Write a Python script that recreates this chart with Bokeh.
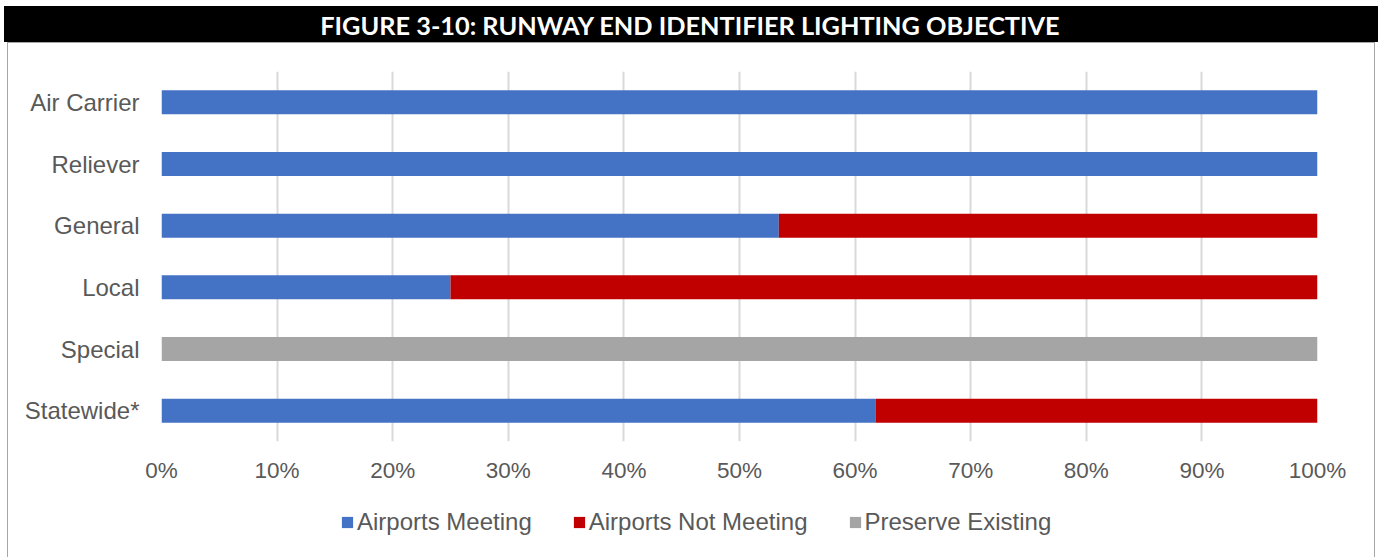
from bokeh.plotting import figure
from bokeh.layouts import column
from bokeh.models import FactorRange, Range1d, Legend, Label, FixedTicker, NumeralTickFormatter
from bokeh.embed import file_html
from bokeh.resources import INLINE

title_text = "FIGURE 3-10: RUNWAY END IDENTIFIER LIGHTING OBJECTIVE"
categories = ["Air Carrier", "Reliever", "General", "Local", "Special", "Statewide*"]
meeting = [1.0, 1.0, 0.534, 0.25, 0.0, 0.618]
not_meeting = [0.0, 0.0, 0.466, 0.75, 0.0, 0.382]
preserve = [0.0, 0.0, 0.0, 0.0, 1.0, 0.0]
series = ["Airports Meeting", "Airports Not Meeting", "Preserve Existing"]
colors = ["#4472C4", "#C00000", "#A5A5A5"]
x_ticks = [0, 0.1, 0.2, 0.3, 0.4, 0.5, 0.6, 0.7, 0.8, 0.9, 1.0]

FONT = "Liberation Sans"
TXT = "#595959"
BORDER = "1px solid #a6a6a6"
LB, RB = 153, 59

# title bar (x range = canvas pixels of its own frame)
p0 = figure(width=1374, height=36, output_backend="svg", toolbar_location=None,
            x_range=Range1d(LB, 1374 - RB), y_range=Range1d(0, 36),
            min_border=0, min_border_left=LB, min_border_right=RB,
            x_axis_type=None, y_axis_type=None)
p0.background_fill_color = None
p0.border_fill_color = None
p0.styles = {"background-color": "black"}
p0.outline_line_color = None
p0.grid.visible = False
p0.add_layout(Label(x=686, y=18, text=title_text, text_align="center", text_baseline="middle",
                    text_color="white", text_font="Lato", text_font_style="bold",
                    text_font_size="25.3px"))
p0.margin = (6, 0, 0, 4)

# main chart
p = figure(width=1368, height=448, output_backend="svg", toolbar_location=None,
           y_range=FactorRange(*categories[::-1], range_padding=0),
           x_range=Range1d(0, 1), min_border_left=LB, min_border_right=RB,
           min_border_top=28, min_border_bottom=50)
p.margin = (0, 0, 0, 7)
p.styles = {"border-left": BORDER, "border-right": BORDER, "border-top": BORDER}
p.outline_line_color = None
p.background_fill_color = "white"

data = {"cat": categories, series[0]: meeting, series[1]: not_meeting, series[2]: preserve}
rs = p.hbar_stack(series, y="cat", height=0.39, color=colors, source=data,
                  line_color=None)

p.ygrid.grid_line_color = None
p.xgrid.grid_line_color = "#D9D9D9"
p.xgrid.grid_line_width = 2
p.xgrid.level = "underlay"

p.xaxis.ticker = FixedTicker(ticks=x_ticks)
p.xaxis.formatter = NumeralTickFormatter(format="0%")
for ax in (p.xaxis[0], p.yaxis[0]):
    ax.axis_line_color = None
    ax.major_tick_line_color = None
    ax.minor_tick_line_color = None
    ax.major_tick_out = 0
    ax.major_label_text_font = FONT
    ax.major_label_text_font_size = "22.5px"
    ax.major_label_text_color = TXT
p.xaxis.major_label_standoff = 16
p.yaxis.major_label_standoff = 22
p.yaxis.major_label_text_font_size = "24px"

# legend strip (swatches are zero-width proxies of the three series)
p2 = figure(width=1368, height=67, output_backend="svg", toolbar_location=None,
            x_range=Range1d(0, 1), y_range=Range1d(0, 1),
            min_border=0, min_border_left=LB, min_border_right=RB,
            x_axis_type=None, y_axis_type=None)
p2.margin = (0, 0, 0, 7)
p2.styles = {"border-left": BORDER, "border-right": BORDER}
p2.outline_line_color = None
p2.grid.visible = False
swatches = [p2.hbar(y=[0.5], left=[0], right=[0], height=0.1, color=c, line_color=None)
            for c in colors]

legend = Legend(items=[(s, [r]) for s, r in zip(series, swatches)], orientation="horizontal",
                location=(179, 21), border_line_color=None, background_fill_alpha=0,
                glyph_width=14, glyph_height=14, label_standoff=3, spacing=40,
                padding=0, margin=0, label_text_font=FONT, label_text_font_size="24px",
                label_text_color=TXT)
p2.add_layout(legend, "center")

layout = column(p0, p, p2, spacing=0)
open("out.html", "w").write(file_html(layout, INLINE))
